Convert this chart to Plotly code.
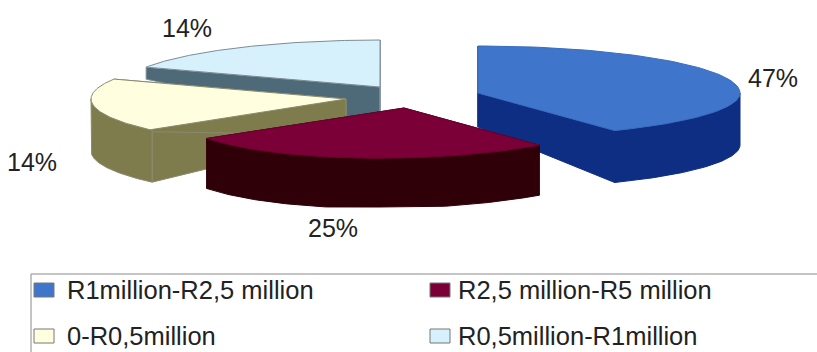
import numpy as np
import plotly.graph_objects as go

# Market share by value band
categories = ["R1million-R2,5 million", "R2,5 million-R5 million", "0-R0,5million", "R0,5million-R1million"]
shares = [47, 25, 14, 14]

top_colors = ["#3F76CC", "#7B0037", "#FFFFDF", "#D6F0FC"]
side_colors = ["#0E2E84", "#300008", "#7E7C4C", "#4E6A78"]
edge_colors = ["#3A6DBE", "#6E0030", "#8A8A70", "#7C8C94"]

# Exploded slice geometry, in page pixels: hub, ellipse radii (back and front half),
# shear, first angle, angular stretch of the foreshortened sweep, extrusion depth.
slice_geometry = [
    dict(cx=478, cy=93, rx=262, ry=47, ry_front=44, shear=0.0, start=0.0, stretch=0.878, hub=34, rim=52),
    dict(cx=404, cy=108, rx=230, ry=50, ry_front=50, shear=-0.024, start=144.0, stretch=1.056, hub=46, rim=50),
    dict(cx=346, cy=99, rx=255, ry=48, ry_front=48, shear=0.0, start=229.5, stretch=1.29, hub=36, rim=52),
    dict(cx=380, cy=87, rx=258, ry=47, ry_front=47, shear=0.0, start=295.0, stretch=1.29, hub=42, rim=12),
]
draw_order = [3, 2, 0, 1]
floor_y = 207  # the extruded body stops at this line

label_positions = [(773, 78), (333, 228), (32, 162), (187, 28)]
legend_rows = [(290, 0), (290, 1), (336, 0), (336, 1)]
legend_swatch_x = [34, 430]
legend_text_x = [65, 456]


def rim_at(g, deg):
    t = np.radians(deg)
    dx = g["rx"] * np.sin(t)
    cos_t = np.cos(t)
    ry = np.where(cos_t < 0, g["ry_front"], g["ry"])
    dy = -ry * cos_t + g["shear"] * dx
    return g["cx"] + dx, g["cy"] + dy


def sweep_of(g, share):
    return g["start"], g["start"] + share * 3.6 * g["stretch"]


fig = go.Figure()


def polygon(x, y, fill, line, width=1):
    fig.add_trace(go.Scatter(
        x=x, y=y, mode="lines", fill="toself", fillcolor=fill,
        line=dict(color=line, width=width), hoverinfo="skip", showlegend=False,
    ))


for i in draw_order:
    g = slice_geometry[i]
    a0, a1 = sweep_of(g, shares[i])
    rx_pts, ry_pts = rim_at(g, np.linspace(a0, a1, 100))
    hub_x, hub_y = g["cx"], g["cy"]
    hub_low = min(hub_y + g["hub"], floor_y)
    outline = side_colors[i] if i < 2 else edge_colors[i]

    # Radial cut faces
    for k in (0, -1):
        polygon(
            [hub_x, rx_pts[k], rx_pts[k], hub_x, hub_x],
            [hub_y, ry_pts[k], min(ry_pts[k] + g["rim"], floor_y), hub_low, hub_y],
            side_colors[i], outline,
        )
    # Outer wall: only the part of the rim that faces the viewer
    w0, w1 = max(a0, 90.0), min(a1, 270.0)
    if w1 > w0:
        wx, wy = rim_at(g, np.linspace(w0, w1, 100))
        low = np.minimum(wy + g["rim"], floor_y)
        polygon(
            np.concatenate([wx, wx[::-1], wx[:1]]),
            np.concatenate([wy, low[::-1], wy[:1]]),
            side_colors[i], outline,
        )
    # Top face
    polygon(
        np.concatenate([[hub_x], rx_pts, [hub_x]]),
        np.concatenate([[hub_y], ry_pts, [hub_y]]),
        top_colors[i], edge_colors[i],
    )

annotations = [
    dict(x=x, y=y, text=f"{v}%", showarrow=False, xanchor="center", yanchor="middle",
         font=dict(size=25, color="#222222"))
    for v, (x, y) in zip(shares, label_positions)
]

# Legend frame, open towards the right and bottom page edges
shapes = [
    dict(type="line", x0=31, x1=817, y0=274, y1=274, line=dict(color="#8A8A8A", width=1)),
    dict(type="line", x0=31, x1=31, y0=274, y1=352, line=dict(color="#8A8A8A", width=1)),
]
for name, color, (row_y, col) in zip(categories, top_colors, legend_rows):
    sx = legend_swatch_x[col]
    shapes.append(dict(type="rect", x0=sx, x1=sx + 20, y0=row_y - 7, y1=row_y + 7,
                       fillcolor=color, line=dict(color="#777777", width=1)))
    annotations.append(dict(x=legend_text_x[col], y=row_y, text=name, showarrow=False,
                            xanchor="left", yanchor="middle",
                            font=dict(size=25.5, color="#222222")))

fig.update_layout(
    width=817, height=352,
    margin=dict(l=0, r=0, t=0, b=0),
    paper_bgcolor="white", plot_bgcolor="white",
    font=dict(family="Liberation Sans, Arial, sans-serif"),
    xaxis=dict(range=[0, 817], visible=False, fixedrange=True),
    yaxis=dict(range=[352, 0], visible=False, fixedrange=True),
    showlegend=False,
    shapes=shapes,
    annotations=annotations,
)
fig.write_html("out.html", config={"displayModeBar": False})
